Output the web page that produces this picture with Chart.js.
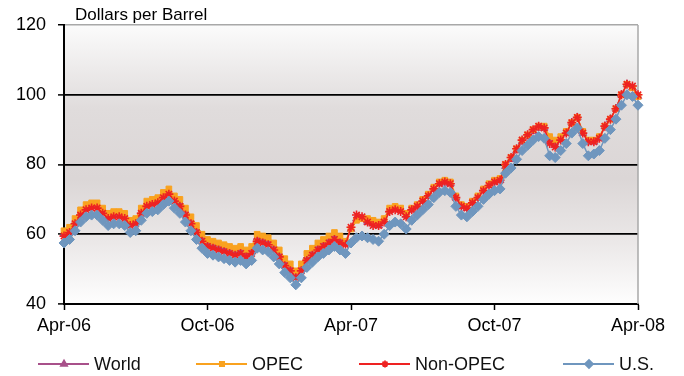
<!DOCTYPE html>
<html>
<head>
<meta charset="utf-8">
<script src="https://cdn.jsdelivr.net/npm/chart.js@4.4.1/dist/chart.umd.min.js"></script>
<style>
  html, body { margin: 0; padding: 0; background: #fff; }
  #wrap { width: 684px; height: 376px; position: relative; }
</style>
</head>
<body>
<div id="wrap"><canvas id="oilChart"></canvas></div>
<script>
/* weekly prices, Apr-06 .. Apr-08 (dollars per barrel) */
const WORLD = [60,61,63.5,66,67.5,68,68,66.5,65,65.5, 65.5,65,63,63.5,66.5,68.5,69,69.5,71,72, 70,
  69,66.5,64,61.5,59,57.5,57,56.5,56, 55.5,55,55.5,54.5,55.5,59,58.5,58,56.5,54.5, 52,50.5,48.5,50.5,53.5,55,56.5,57.5,58.5,59.5, 58.5,
  57.5,61.5,64.5,64.5,63.5,63,62.5,64,67,67.5, 67,65.5,67,68,69.5,71,73,74.5,75,74.5, 70.5,68,67.5,69,70.5,72.5,74,75,75.5,79.5,
  81.5,84,86.5,88,89.5,90.5,90.5,86.5,85.5,87.5, 89,92,93.5,89,86.5,86.5,87.5,91,93,96, 100,103,102,99.5];
const OPEC = [61,62,64.5,67,68.5,69,69,67.5,66,66.5, 66.5,66,64,64.5,67.5,69.5,70,70.5,72,73, 71,
  70,67.5,65,62.5,60,58.5,58,57.5,57, 56.5,56,56.5,55.5,56.5,60,59.5,59,57.5,55.5, 53,51.5,49.5,51.5,54.5,56,57.5,58.5,59.5,60.5, 59.5,
  58,61.5,64,64.5,64.5,64,63.5,64.5,67.5,68, 67.5,66,67.5,68.5,70,71.5,73.5,75,75.5,75, 71,68.5,68,69.5,71,73,74.5,75.5,76,80,
  82,84.5,87,88.5,90,91,91,88,87,88, 89.5,92,93.5,89.5,87,87,88,91,93,96, 100,103,102,99.5];
const NON_OPEC = [59.5,60.5,63,65.5,67,67.5,67.5,66,64.5,65, 65,64.5,62.5,63,66,68,68.5,69,70.5,71.5, 69.5,
  68,65.5,63,60.5,58,56.5,56,55.5,55, 54.5,54,54.5,53.5,54.5,58,57.5,57,55.5,53.5, 51,49.5,47.5,49.5,52.5,54,55.5,56.5,57.5,58.5, 57.5,
  57,62,65.5,65,63.5,62.5,62.5,63.5,66.5,67, 66.5,65,67,68,69.5,71,73,74.5,75,74.5, 70.5,68,67.5,69,70.5,72.5,74,75,75.5,80,
  82,84.5,87,88.5,90,91,90.5,86,85,87, 89,92,93.5,89,86.5,86.5,87.5,91,93,96, 100,103,102.5,100];
const US = [57.5,58.5,61,63.5,65,65.5,65.5,64,62.5,63, 63,62.5,60.5,61,64,66,66.5,67,68.5,69.5,
  67.5,66,63.5,61,58.5,56,54.5,54,53.5,53, 52.5,52,52.5,51.5,52.5,56,55.5,55,53.5,51.5,
  49,47.5,45.5,47.5,50.5,52,53.5,54.5,55.5,56.5, 55.5,54.5,57.5,59,59.5,59,58.5,58,60,62.5,
  63.5,63,61.5,64,65.5,67,68.5,70.5,72,72.5, 72,68,65.5,65,66.5,68,70,71.5,72.5,73,
  77.5,79,81.5,84,85.5,87,88,87.5,82.5,82, 84,86,89,90.5,86,82.5,83,84,87.5,90,
  93,97,100,99.5,97];

const SERIES_NAMES = ['World', 'OPEC', 'Non-OPEC', 'U.S.'];
const TICK_WEEKS = [0, 26, 52, 78, 104];
const TICK_LABELS = ['Apr-06', 'Oct-06', 'Apr-07', 'Oct-07', 'Apr-08'];
const Y_TICKS = [40, 60, 80, 100, 120];

const FONT = '"Liberation Sans", Arial, sans-serif';
const toPts = arr => arr.map((v, i) => ({ x: i, y: v }));

const styles = [
  { color: '#a8508a', point: 'triangle', r: 4.5 },
  { color: '#f9a21f', point: 'rect', r: 4 },
  { color: '#ee2222', point: 'star', r: 4.5 },
  { color: '#6f96be', point: 'rectRot', r: 5 },
];
const values = [WORLD, OPEC, NON_OPEC, US];

const datasets = values.map((vals, i) => ({
  label: SERIES_NAMES[i],
  data: toPts(vals),
  borderColor: styles[i].color,
  backgroundColor: styles[i].color,
  pointBackgroundColor: styles[i].color,
  pointBorderColor: styles[i].color,
  pointStyle: styles[i].point,
  pointRadius: styles[i].r,
  pointBorderWidth: styles[i].point === 'star' ? 1.6 : 1,
  borderWidth: 1.5,
  tension: 0,
  clip: false,
  order: 4 - i,   // U.S. drawn on top
}));

/* gradient plot background + right border + title + legend */
const decor = {
  id: 'decor',
  beforeDraw(chart) {
    const { ctx, chartArea: a } = chart;
    const g = ctx.createLinearGradient(0, a.top, 0, a.bottom);
    g.addColorStop(0, '#fbfbfb');
    g.addColorStop(0.3, '#e0dcdc');
    g.addColorStop(0.55, '#dbd6d6');
    g.addColorStop(0.78, '#ebe8e8');
    g.addColorStop(1, '#fefefe');
    ctx.save();
    ctx.fillStyle = g;
    ctx.fillRect(a.left, a.top, a.right - a.left, a.bottom - a.top);
    ctx.restore();
  },
  beforeDatasetsDraw(chart) {
    const { ctx, chartArea: a } = chart;
    ctx.save();
    ctx.strokeStyle = '#a8a8a8';
    ctx.lineWidth = 1.5;
    ctx.beginPath();
    ctx.moveTo(a.right, a.top);
    ctx.lineTo(a.right, a.bottom);
    ctx.stroke();
    ctx.restore();
  },
  afterDraw(chart) {
    const { ctx } = chart;
    ctx.save();
    ctx.fillStyle = '#000';
    ctx.font = '17px ' + FONT;
    ctx.textBaseline = 'alphabetic';
    ctx.fillText('Dollars per Barrel', 75, 20);

    const lx = [38, 196, 359, 563];
    const y = 364;
    chart.data.datasets.forEach((ds, i) => {
      const x0 = lx[i];
      ctx.strokeStyle = ds.borderColor;
      ctx.lineWidth = 1.8;
      ctx.beginPath();
      ctx.moveTo(x0, y);
      ctx.lineTo(x0 + 51, y);
      ctx.stroke();
      ctx.fillStyle = ds.pointBackgroundColor;
      Chart.helpers.drawPoint(ctx, {
        pointStyle: ds.pointStyle, radius: ds.pointRadius - 1, rotation: 0,
        borderWidth: ds.pointBorderWidth
      }, x0 + 26, y);
      ctx.fillStyle = '#111';
      ctx.font = '18px ' + FONT;
      ctx.textBaseline = 'middle';
      ctx.fillText(ds.label, x0 + 56, y + 1);
    });
    ctx.restore();
  }
};

new Chart(document.getElementById('oilChart'), {
  type: 'line',
  data: { datasets },
  plugins: [decor],
  options: {
    responsive: true, maintainAspectRatio: false, animation: false,
    layout: { padding: { top: 25, right: 46, left: 0, bottom: 0 } },
    plugins: { legend: { display: false }, tooltip: { enabled: false } },
    scales: {
      x: {
        type: 'linear', min: TICK_WEEKS[0], max: TICK_WEEKS[TICK_WEEKS.length - 1],
        afterFit: s => { s.height = 72; },
        afterBuildTicks: s => { s.ticks = TICK_WEEKS.map(v => ({ value: v })); },
        ticks: {
          autoSkip: false, maxRotation: 0, padding: 5, color: '#000',
          font: { family: FONT, size: 18 },
          callback: v => TICK_LABELS[TICK_WEEKS.indexOf(v)]
        },
        grid: { drawOnChartArea: false, drawTicks: true, tickLength: 6, color: '#000', tickWidth: 1.5 },
        border: { color: '#000', width: 2 }
      },
      y: {
        min: Y_TICKS[0], max: Y_TICKS[Y_TICKS.length - 1],
        afterFit: s => { s.width = 64; },
        afterBuildTicks: s => { s.ticks = Y_TICKS.map(v => ({ value: v })); },
        ticks: { color: '#000', padding: 12, font: { family: FONT, size: 18 } },
        grid: {
          color: c => c.tick.value === 120 ? '#a8a8a8' : (c.tick.value === 40 ? 'rgba(0,0,0,0)' : '#000'),
          lineWidth: c => c.tick.value === 120 ? 1.5 : 1.8,
          tickColor: '#000', tickLength: 6, tickWidth: 1.5
        },
        border: { color: '#000', width: 2 }
      }
    }
  }
});
</script>
</body>
</html>
